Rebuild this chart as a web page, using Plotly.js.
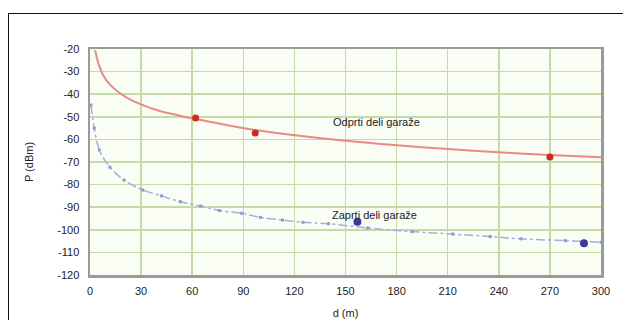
<!DOCTYPE html>
<html>
<head>
<meta charset="utf-8">
<script src="https://cdn.plot.ly/plotly-3.0.1.min.js"></script>
<style>
  html, body { margin: 0; padding: 0; background: #ffffff; }
  #frame { position: absolute; left: 8px; top: 13px; width: 616px; height: 320px; border: 1.5px solid #111; box-sizing: border-box; }
  #chart { position: absolute; left: 0; top: 0; width: 623px; height: 320px; }
</style>
</head>
<body>
<div id="frame"></div>
<div id="chart"></div>
<script>
// Odprti deli garaže (open parts) – fitted curve and measured points
const openX = [3, 5, 8, 12, 18, 24, 31, 40, 50, 62, 80, 97, 123, 150, 180, 210, 240, 270, 300];
const openP = [-20.5, -26.5, -32, -36, -39.8, -42.5, -44.8, -47.2, -49.0, -51.0, -53.6, -55.8, -58.4, -60.6, -62.6, -64.3, -65.7, -66.9, -67.9];
const openPtsX = [62, 97, 270];
const openPtsP = [-50.5, -57.2, -67.8];

// Zaprti deli garaže (closed parts) – curve and measured points
const closedX = [0.6, 2.5, 5.5, 11.7, 20, 31, 42, 53, 65, 76, 89, 100, 113, 125, 140, 163, 189, 213, 235, 253, 279, 300];
const closedP = [-44.8, -55, -64.7, -72.3, -78, -82.4, -85, -87.6, -89.5, -91.5, -92.7, -94.5, -95.7, -96.7, -97.3, -99.2, -100.8, -101.9, -103, -104, -104.8, -105.5];
const closedPtsX = [157, 290];
const closedPtsP = [-96.4, -106];

const xTicks = [0, 30, 60, 90, 120, 150, 180, 210, 240, 270, 300];
const yTicks = [-20, -30, -40, -50, -60, -70, -80, -90, -100, -110, -120];

const labelOpen = 'Odprti deli garaže';
const labelClosed = 'Zaprti deli garaže';

const traces = [
  { x: openX, y: openP, mode: 'lines', line: { color: '#e98a84', width: 2, shape: 'spline', smoothing: 1.3 }, hoverinfo: 'skip' },
  { x: openPtsX, y: openPtsP, mode: 'markers', marker: { color: '#cc2a22', size: 7 } },
  { x: closedX, y: closedP, mode: 'lines+markers', line: { color: '#a7aedf', width: 1.5, dash: 'dashdot', shape: 'spline' }, marker: { color: '#9097d2', size: 3, symbol: 'square' } },
  { x: closedPtsX, y: closedPtsP, mode: 'markers', marker: { color: '#3a3a9c', size: 8 } }
];

const layout = {
  width: 623, height: 320,
  margin: { l: 90, r: 22, t: 49, b: 45 },
  paper_bgcolor: 'rgba(0,0,0,0)',
  plot_bgcolor: '#fafdf3',
  showlegend: false,
  font: { family: 'Liberation Sans, Arial, sans-serif', size: 11, color: '#222' },
  xaxis: {
    range: [0, 300], tickvals: xTicks, ticktext: xTicks.map(String),
    showgrid: true, gridcolor: '#c2dca4', gridwidth: 1.5,
    showline: true, linecolor: '#9a9a9a', linewidth: 2.5, mirror: true,
    zeroline: false, ticks: '', ticklabelstandoff: 4,
    title: { text: 'd (m)', font: { size: 11, color: '#222' }, standoff: 14 }
  },
  yaxis: {
    range: [-120, -20], tickvals: yTicks, ticktext: yTicks.map(String),
    showgrid: true, gridcolor: '#c2dca4', gridwidth: 1.5,
    showline: true, linecolor: '#9a9a9a', linewidth: 2.5, mirror: true,
    zeroline: false, ticks: '', ticklabelstandoff: 6,
    title: { text: 'P (dBm)', font: { size: 11, color: '#222' }, standoff: 22 }
  },
  annotations: [
    { x: 168, y: -52.3, text: labelOpen, showarrow: false, font: { size: 11, color: '#222' } },
    { x: 167, y: -93.5, text: labelClosed, showarrow: false, font: { size: 11, color: '#222' } }
  ]
};

Plotly.newPlot('chart', traces, layout, { staticPlot: true, displayModeBar: false });
</script>
</body>
</html>
